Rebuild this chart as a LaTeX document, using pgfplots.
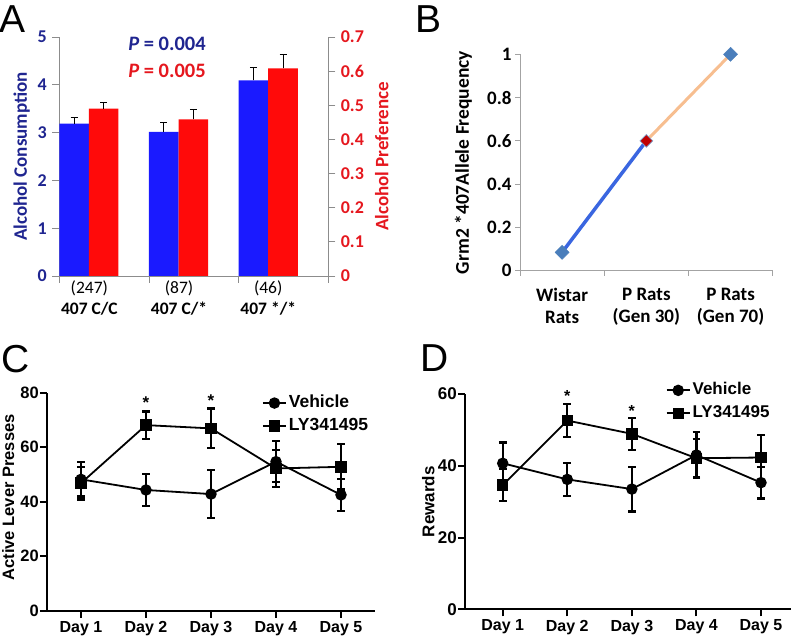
\documentclass[border=0pt]{standalone}
\usepackage{pgfplots}
\pgfplotsset{compat=1.18}
\usepackage{fontspec}
\setmainfont{Liberation Sans}
\newfontfamily\calfont{Carlito}
\newfontfamily\ari{Liberation Sans}
\definecolor{navy}{HTML}{1F2590}
\definecolor{barblue}{HTML}{1A1AFF}
\definecolor{barred}{HTML}{FF0A0A}
\definecolor{tickred}{HTML}{E5171E}
\definecolor{gaxis}{HTML}{8C8C8C}
\definecolor{lblue}{HTML}{3A66E0}
\definecolor{lorange}{HTML}{F7BE90}
\definecolor{mblue}{HTML}{4A7EBB}
\definecolor{mred}{HTML}{C00000}
\begin{document}
\begin{tikzpicture}
\path[use as bounding box] (0pt,0pt) rectangle (796pt,637pt);
% panel letters
\node[font=\ari\fontsize{39}{39}\selectfont, anchor=base west, inner sep=0pt] at (-1pt,604pt) {A};
\node[font=\ari\fontsize{39}{39}\selectfont, anchor=base west, inner sep=0pt] at (415pt,604pt) {B};
\node[font=\ari\fontsize{39}{39}\selectfont, anchor=base west, inner sep=0pt] at (1pt,264pt) {C};
\node[font=\ari\fontsize{39}{39}\selectfont, anchor=base west, inner sep=0pt] at (420pt,265pt) {D};
% ---------------- Panel A, left axis ----------------
\begin{axis}[
  at={(59.3pt,361pt)}, anchor=south west, scale only axis,
  width=269pt, height=239pt,
  xmin=0, xmax=3, ymin=0, ymax=5,
  axis x line*=bottom, axis y line*=left,
  axis line style={gaxis, line width=0.8pt},
  every tick/.style={gaxis, line width=0.8pt},
  tick align=outside, major tick length=7pt,
  ytick={0,1,2,3,4,5}, yticklabels={0,1,2,3,4,5},
  yticklabel style={font=\calfont\bfseries\fontsize{18}{20}\selectfont, text=navy, xshift=-2pt},
  xtick={0,1,2,3}, xticklabels={},
  extra x ticks={0.335,1.335,2.33},
  extra x tick labels={{(247)\\\textbf{407 C/C}},{(87)\\\textbf{407 C/*}},{(46)\\\textbf{407 */*}}},
  extra x tick style={major tick length=0pt, xticklabel style={font=\calfont\fontsize{17.5}{21}\selectfont, align=center, text=black, yshift=-1.5pt}},
  ylabel={Alcohol Consumption},
  ylabel style={font=\calfont\bfseries\fontsize{19}{21}\selectfont, text=navy, at={(axis description cs:-0.14,0.5)}, anchor=center},
  clip=false,
]
\addplot[ybar, bar width=0.33, bar shift=0pt, fill=barblue, draw=none,
  error bars/.cd, y dir=plus, y explicit,
  error bar style={black, line width=0.8pt},
  error mark options={black, line width=0.8pt, mark size=3.5pt, rotate=90}]
  coordinates {(0.165,3.19) +- (0,0.12) (1.165,3.015) +- (0,0.19) (2.165,4.095) +- (0,0.26)};
\end{axis}
% ---------------- Panel A, right axis ----------------
\begin{axis}[
  at={(59.3pt,361pt)}, anchor=south west, scale only axis,
  width=269pt, height=239pt,
  xmin=0, xmax=3, ymin=0, ymax=0.7,
  hide x axis, axis y line*=right,
  axis line style={gaxis, line width=0.8pt},
  every tick/.style={gaxis, line width=0.8pt},
  tick align=outside, major tick length=7pt,
  ytick={0,0.1,0.2,0.3,0.4,0.5,0.6,0.7}, yticklabels={0,0.1,0.2,0.3,0.4,0.5,0.6,0.7},
  yticklabel style={font=\calfont\bfseries\fontsize{18}{20}\selectfont, text=tickred, xshift=2pt},
  ylabel={Alcohol Preference},
  ylabel style={font=\calfont\bfseries\fontsize{19}{21}\selectfont, text=tickred, at={(axis description cs:1.199,0.5)}, anchor=center},
  clip=false,
]
\addplot[ybar, bar width=0.33, bar shift=0pt, fill=barred, draw=none,
  error bars/.cd, y dir=plus, y explicit,
  error bar style={black, line width=0.8pt},
  error mark options={black, line width=0.8pt, mark size=3.5pt, rotate=90}]
  coordinates {(0.495,0.490) +- (0,0.019) (1.495,0.459) +- (0,0.028) (2.495,0.608) +- (0,0.040)};
\end{axis}
\node[font=\calfont\bfseries\fontsize{20.5}{22}\selectfont, text=navy] at (167pt,593pt) {\textit{P} = 0.004};
\node[font=\calfont\bfseries\fontsize{20.5}{22}\selectfont, text=tickred] at (167pt,566pt) {\textit{P} = 0.005};
% ---------------- Panel B ----------------
\begin{axis}[
  at={(520pt,366.3pt)}, anchor=south west, scale only axis,
  width=252.7pt, height=216.4pt,
  xmin=0, xmax=3, ymin=0, ymax=1,
  axis x line*=bottom, axis y line*=left,
  axis line style={gaxis!80, line width=0.8pt},
  every tick/.style={gaxis!80, line width=0.8pt},
  tick align=outside, major tick length=5pt,
  ytick={0,0.2,0.4,0.6,0.8,1}, yticklabels={0,0.2,0.4,0.6,0.8,1},
  yticklabel style={font=\calfont\bfseries\fontsize{19}{21}\selectfont, text=black},
  xtick={0,1,2,3}, xticklabels={},
  extra x ticks={0.5,1.5,2.5},
  extra x tick labels={{Wistar\\Rats},{P Rats\\(Gen 30)},{P Rats\\(Gen 70)}},
  extra x tick style={major tick length=0pt, xticklabel style={font=\calfont\bfseries\fontsize{19}{22}\selectfont, align=center, text=black, yshift=-14pt}},
  ylabel={Grm2 *407Allele Frequency},
  ylabel style={font=\calfont\bfseries\fontsize{19.5}{21}\selectfont, text=black, at={(axis description cs:-0.224,0.5)}, anchor=center},
  clip=false,
]
\addplot[lblue, line width=3.5pt] coordinates {(0.5,0.085) (1.5,0.6)};
\addplot[lorange, line width=3pt] coordinates {(1.5,0.6) (2.5,1)};
\addplot[only marks, mark=square*, mark size=5pt, mark options={rotate=45, fill=mblue, draw=mblue}] coordinates {(0.5,0.085) (2.5,1)};
\addplot[only marks, mark=square*, mark size=4.5pt, mark options={rotate=45, fill=mred, draw=mblue!70, line width=0.8pt}] coordinates {(1.5,0.6)};
\end{axis}
% ---------------- Panel C ----------------
\begin{axis}[
  at={(47pt,26.3pt)}, anchor=south west, scale only axis,
  width=328pt, height=218pt,
  xmin=0.477, xmax=5.523, ymin=0, ymax=80,
  axis x line*=bottom, axis y line*=left,
  axis line style={black, line width=2pt},
  every tick/.style={black, line width=2pt},
  tick align=outside, major tick length=7pt,
  ytick={0,20,40,60,80}, yticklabels={0,20,40,60,80},
  yticklabel style={font=\ari\bfseries\fontsize{16.5}{18}\selectfont, inner xsep=1pt},
  xtick={1,2,3,4,5}, xticklabels={Day 1,Day 2,Day 3,Day 4,Day 5},
  xticklabel style={font=\ari\bfseries\fontsize{16}{18}\selectfont},
  ylabel={Active Lever Presses},
  ylabel style={font=\ari\bfseries\fontsize{16.5}{19}\selectfont, at={(axis description cs:-0.118,0.52)}, anchor=center},
  legend style={draw=none, fill=none, at={(axis description cs:0.655,0.997)}, anchor=north west, inner sep=0pt, row sep=4pt, font=\ari\bfseries\fontsize{17.5}{19}\selectfont, nodes={inner sep=2pt, text height=12pt, text depth=3pt}},
  legend cell align=left,
  legend image code/.code={\draw[mark repeat=2,mark phase=2,#1] plot coordinates {(0pt,0pt) (11.5pt,0pt) (23pt,0pt)};},
  clip=false,
]
\addplot[black, line width=1.8pt, mark=*, mark size=4.8pt,
  error bars/.cd, y dir=both, y explicit,
  error bar style={black, line width=2.2pt},
  error mark options={black, line width=2.2pt, mark size=3.8pt, rotate=90}]
  coordinates {(1,48.2) +- (0,6.3) (2,44.3) +- (0,6) (3,42.8) +- (0,8.8) (4,54.7) +- (0,7.5) (5,42.5) +- (0,5.8)};
\addlegendentry{Vehicle}
\addplot[black, line width=1.8pt, mark=square*, mark size=4.8pt,
  error bars/.cd, y dir=both, y explicit,
  error bar style={black, line width=2.2pt},
  error mark options={black, line width=2.2pt, mark size=3.8pt, rotate=90}]
  coordinates {(1,46.8) +- (0,6) (2,68.1) +- (0,5) (3,66.9) +- (0,7.3) (4,52.2) +- (0,6.9) (5,52.8) +- (0,8.3)};
\addlegendentry{LY341495}
\node[font=\ari\bfseries\fontsize{17}{19}\selectfont, anchor=base] at (axis cs:2,74.3) {*};
\node[font=\ari\bfseries\fontsize{17}{19}\selectfont, anchor=base] at (axis cs:3,74.8) {*};
\end{axis}
% ---------------- Panel D ----------------
\begin{axis}[
  at={(465pt,27.7pt)}, anchor=south west, scale only axis,
  width=325.7pt, height=215.3pt,
  xmin=0.416, xmax=5.46, ymin=0, ymax=60,
  axis x line*=bottom, axis y line*=left,
  axis line style={black, line width=2pt},
  every tick/.style={black, line width=2pt},
  tick align=outside, major tick length=7pt,
  ytick={0,20,40,60}, yticklabels={0,20,40,60},
  yticklabel style={font=\ari\bfseries\fontsize{17}{18}\selectfont, inner xsep=1pt},
  xtick={1,2,3,4,5}, xticklabels={Day 1,Day 2,Day 3,Day 4,Day 5},
  xticklabel style={font=\ari\bfseries\fontsize{16}{18}\selectfont},
  ylabel={Rewards},
  ylabel style={font=\ari\bfseries\fontsize{17}{19}\selectfont, at={(axis description cs:-0.113,0.5)}, anchor=center},
  legend style={draw=none, fill=none, at={(axis description cs:0.616,1.062)}, anchor=north west, inner sep=0pt, row sep=4pt, font=\ari\bfseries\fontsize{17}{19}\selectfont, nodes={inner sep=2pt, text height=12pt, text depth=3pt}},
  legend cell align=left,
  legend image code/.code={\draw[mark repeat=2,mark phase=2,#1] plot coordinates {(0pt,0pt) (11.5pt,0pt) (23pt,0pt)};},
  clip=false,
]
\addplot[black, line width=1.8pt, mark=*, mark size=4.8pt,
  error bars/.cd, y dir=both, y explicit,
  error bar style={black, line width=2.2pt},
  error mark options={black, line width=2.2pt, mark size=3.8pt, rotate=90}]
  coordinates {(1,40.7) +- (0,5.8) (2,36.2) +- (0,4.65) (3,33.5) +- (0,6.25) (4,43.0) +- (0,6.3) (5,35.3) +- (0,4.4)};
\addlegendentry{Vehicle}
\addplot[black, line width=1.8pt, mark=square*, mark size=4.8pt,
  error bars/.cd, y dir=both, y explicit,
  error bar style={black, line width=2.2pt},
  error mark options={black, line width=2.2pt, mark size=3.8pt, rotate=90}]
  coordinates {(1,34.6) +- (0,4.4) (2,52.6) +- (0,4.6) (3,48.9) +- (0,4.4) (4,42.1) +- (0,5.3) (5,42.3) +- (0,6.3)};
\addlegendentry{LY341495}
\node[font=\ari\bfseries\fontsize{16}{18}\selectfont, anchor=base] at (axis cs:2,57.9) {*};
\node[font=\ari\bfseries\fontsize{16}{18}\selectfont, anchor=base] at (axis cs:3,53.8) {*};
\end{axis}
\end{tikzpicture}
\end{document}
